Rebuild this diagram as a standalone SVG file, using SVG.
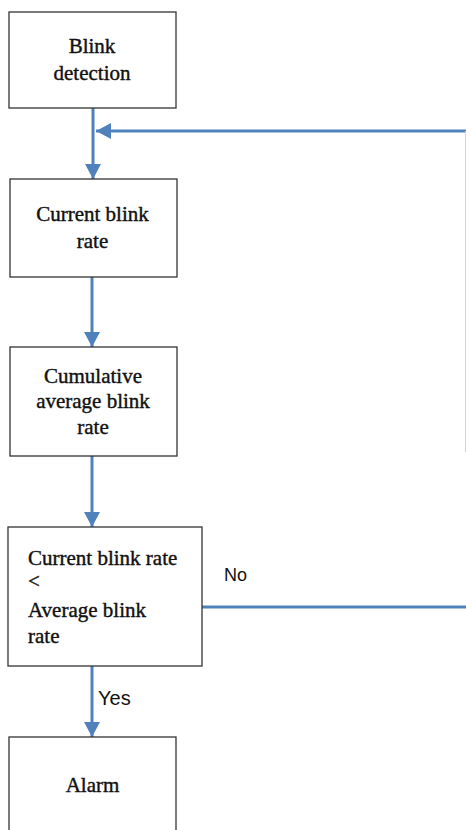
<svg xmlns="http://www.w3.org/2000/svg" width="466" height="830" viewBox="0 0 466 830">
<style>
.box{fill:#fff;stroke:#333;stroke-width:1.3}
.t,.tl{font-family:"Liberation Serif","Times New Roman",serif;font-size:21px;fill:#111;stroke:#111;stroke-width:0.4}
.t{text-anchor:middle}
.lab{font-family:"Liberation Sans",Arial,sans-serif;font-size:18px;fill:#111}
.c{fill:none;stroke:#4f81bd;stroke-width:3}
</style>
<defs>
<marker id="ah" markerUnits="userSpaceOnUse" markerWidth="16" markerHeight="16" viewBox="0 0 16 16" refX="15" refY="8" orient="auto">
<path d="M0,0 L15,8 L0,16 Z" fill="#4f81bd"/>
</marker>
</defs>
<rect width="466" height="830" fill="#fff"/>
<g id="connectors">
<line class="c" x1="93" y1="108" x2="93" y2="179" marker-end="url(#ah)"/>
<line class="c" x1="466" y1="131" x2="96" y2="131" marker-end="url(#ah)"/>
<line x1="465.5" y1="131" x2="465.5" y2="452" stroke="#c8d3e2" stroke-width="1"/>
<line class="c" x1="92" y1="277" x2="92" y2="347" marker-end="url(#ah)"/>
<line class="c" x1="92" y1="456" x2="92" y2="527" marker-end="url(#ah)"/>
<line class="c" x1="92" y1="666" x2="92" y2="737" marker-end="url(#ah)"/>
<line class="c" x1="202" y1="607" x2="466" y2="607"/>
<text class="lab" x="224" y="581">No</text>
<text class="lab" x="98" y="705" style="font-size:20px">Yes</text>
</g>
<g id="blink-detection">
<rect class="box" x="9" y="12" width="167" height="96"/>
<text class="t" x="92" y="53">Blink</text>
<text class="t" x="92" y="80">detection</text>
</g>
<g id="current-blink-rate">
<rect class="box" x="10" y="179" width="167" height="98"/>
<text class="t" x="92.5" y="221">Current blink</text>
<text class="t" x="92.5" y="248">rate</text>
</g>
<g id="cumulative-average">
<rect class="box" x="10" y="347" width="167" height="109"/>
<text class="t" x="93" y="383">Cumulative</text>
<text class="t" x="93" y="408">average blink</text>
<text class="t" x="93" y="434">rate</text>
</g>
<g id="decision">
<rect class="box" x="8" y="527" width="194" height="139"/>
<text class="tl" x="28" y="565">Current blink rate</text>
<text class="tl" x="28" y="588">&lt;</text>
<text class="tl" x="28" y="617">Average blink</text>
<text class="tl" x="28" y="643">rate</text>
</g>
<g id="alarm">
<rect class="box" x="9" y="737" width="167" height="100"/>
<text class="t" x="92.5" y="792">Alarm</text>
</g>
</svg>
